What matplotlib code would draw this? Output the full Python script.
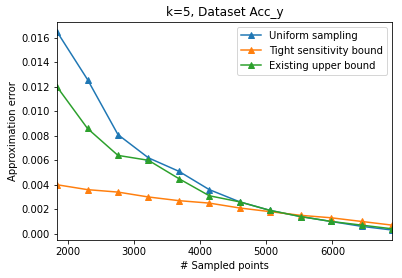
import numpy as np
import matplotlib.pyplot as plt

n_points = [1840, 2300, 2760, 3220, 3680, 4140, 4600, 5060, 5520, 5980, 6440, 6900]
uniform = [0.0165, 0.0126, 0.0081, 0.0062, 0.0051, 0.0036, 0.0026, 0.0019, 0.0014, 0.0010, 0.0006, 0.0003]
tight = [0.0040, 0.0036, 0.0034, 0.0030, 0.0027, 0.0025, 0.0021, 0.0018, 0.0015, 0.0013, 0.0010, 0.0007]
existing = [0.0120, 0.0086, 0.0064, 0.0060, 0.0045, 0.0031, 0.0026, 0.0019, 0.0014, 0.0010, 0.0007, 0.0004]

fig = plt.figure(figsize=(402/72, 278/72), dpi=72)
ax = fig.add_subplot(111)
fig.subplots_adjust(left=0.142, right=0.975, top=0.921, bottom=0.137)

ax.plot(n_points, uniform, marker="^", label="Uniform sampling")
ax.plot(n_points, tight, marker="^", label="Tight sensitivity bound")
ax.plot(n_points, existing, marker="^", label="Existing upper bound")
ax.set_xlim(n_points[0], n_points[-1])
ax.set_title("k=5, Dataset Acc_y")
ax.set_xlabel("# Sampled points")
ax.set_ylabel("Approximation error")
ax.legend(loc="upper right")
fig.savefig("out.png", dpi=72)
